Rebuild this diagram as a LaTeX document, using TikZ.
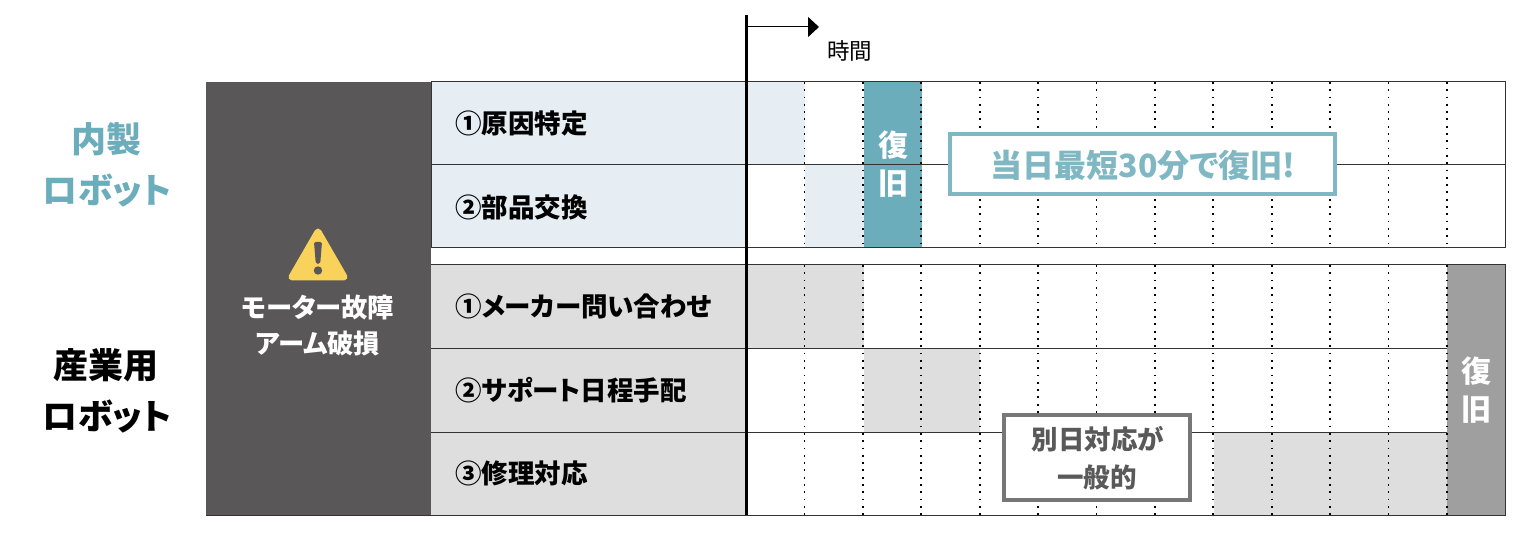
\documentclass[tikz,border=0pt]{standalone}
\usepackage{fontspec}
\setmainfont{Noto Sans CJK JP}[RawFeature=+palt]
\usetikzlibrary{arrows.meta}
\newcommand{\myfontlabel}[1]{\fontsize{#1}{#1}\selectfont\bfseries}
\definecolor{tealMain}{HTML}{6BADBB}
\definecolor{tealLine}{HTML}{7FB7C3}
\definecolor{paleBlue}{HTML}{E6EEF4}
\definecolor{paleGrey}{HTML}{DEDEDE}
\definecolor{midGrey}{HTML}{9F9F9F}
\definecolor{darkPanel}{HTML}{595757}
\definecolor{noteGrey}{HTML}{777777}
\definecolor{warnYellow}{HTML}{F9D25B}
\tikzset{
	rowline/.style={draw=black!80,line width=1pt},
	gridline/.style={draw=black,line width=1.8pt,dash pattern=on 1.8pt off 5.5pt},
	rowlabel/.style={anchor=west,inner sep=0pt,text=black,font=\myfontlabel{26.5}},
	sidelabel/.style={inner sep=0pt,align=center,font=\myfontlabel{35}},
	recover/.style={inner sep=0pt,text=white,font=\myfontlabel{30}},
	faultlabel/.style={inner sep=0pt,text=white,font=\myfontlabel{26.3}},
}
\begin{document}
\begin{tikzpicture}[x=1pt,y=-1pt]
	\useasboundingbox (0,0) rectangle (1536,545);
	%Coloured cells of the chart
	\fill[paleBlue] (431,82) rectangle (805,165);
	\fill[paleBlue] (431,165) rectangle (746,248);
	\fill[paleBlue] (805,165) rectangle (864,248);
	\fill[paleGrey] (431,265) rectangle (746,515);
	\fill[paleGrey] (746,265) rectangle (864,348);
	\fill[paleGrey] (864,348) rectangle (980,432);
	\fill[paleGrey] (1214,432) rectangle (1447,515);
	\fill[darkPanel] (206,82) rectangle (431,515);
	\fill[tealMain] (864,82) rectangle (922,248);
	\fill[midGrey] (1447,265) rectangle (1505,515);
	%Row lines
	\draw[rowline] (431,82) rectangle (1505,248);
	\draw[rowline] (431,165) -- (1505,165);
	\draw[rowline] (206,515) -- (1505,515) -- (1505,265) -- (431,265);
	\draw[rowline] (431,348) -- (1447,348);
	\draw[rowline] (431,432) -- (1447,432);
	%Dotted lines of the time steps
	\foreach \i in {1,...,12} {
		\draw[gridline] (746+58.4*\i,82) -- (746+58.4*\i,248);
		\draw[gridline] (746+58.4*\i,265) -- (746+58.4*\i,515);
	}
	%Time axis
	\coordinate (axisTop) at (746,15);
	\coordinate (axisBottom) at (746,515);
	\coordinate (arrowStart) at (746,27);
	\coordinate (arrowEnd) at (819,27);
	\draw[line width=3pt] (axisTop) -- (axisBottom);
	\draw[line width=1pt,-{Triangle[length=11pt,width=20pt]}] (arrowStart) -- (arrowEnd);
	\node (timeLabel) [inner sep=0pt,font=\fontsize{22.5}{22.5}\selectfont] at (849.5,51) {時間};
	%Names on the left
	\node (inhouse1) [sidelabel,text=tealMain] at (106,139) {内製};
	\node (inhouse2) [sidelabel,text=tealMain] at (107,190) {ロボット};
	\node (industrial1) [sidelabel] at (106,365) {産業用};
	\node (industrial2) [sidelabel] at (107,416) {ロボット};
	%Warning sign
	\fill[warnYellow,draw=warnYellow,line width=7pt,line join=round] (318,232) -- (292,277) -- (344,277) -- cycle;
	\fill[darkPanel,rounded corners=2pt] (314,242) -- (322,242) -- (320.2,264) -- (315.8,264) -- cycle;
	\fill[darkPanel] (318,270.5) circle (4.2);
	\node (fault1) [faultlabel] at (318,308) {モーター故障};
	\node (fault2) [faultlabel] at (318,344) {アーム破損};
	%Step names
	\node (step1) [rowlabel] at (455,124) {①原因特定};
	\node (step2) [rowlabel] at (455,207.5) {②部品交換};
	\node (step3) [rowlabel] at (455,306) {①メーカー問い合わせ};
	\node (step4) [rowlabel] at (455,390) {②サポート日程手配};
	\node (step5) [rowlabel] at (455,473.5) {③修理対応};
	%Recovery columns
	\node (fast1) [recover] at (893,145) {復};
	\node (fast2) [recover] at (893,184) {旧};
	\node (slow1) [recover] at (1476,371) {復};
	\node (slow2) [recover] at (1476,410) {旧};
	%The two notes
	\node (noteFast) [draw=tealLine,line width=4pt,fill=white,minimum width=385pt,minimum height=60pt,inner sep=0pt] at (1142.5,164) {};
	\node (noteFast1) [inner sep=0pt,text=tealLine,font=\myfontlabel{32}] at (1143,165) {当日最短30分で復旧!};
	\node (noteSlow) [draw=noteGrey,line width=4pt,fill=white,minimum width=186pt,minimum height=85pt,inner sep=0pt] at (1097,457.5) {};
	\node (noteSlow1) [inner sep=0pt,text=black!65,font=\myfontlabel{26.5}] at (1098,439) {別日対応が};
	\node (noteSlow2) [inner sep=0pt,text=black!65,font=\myfontlabel{26.5}] at (1097,477) {一般的};
\end{tikzpicture}
\end{document}
